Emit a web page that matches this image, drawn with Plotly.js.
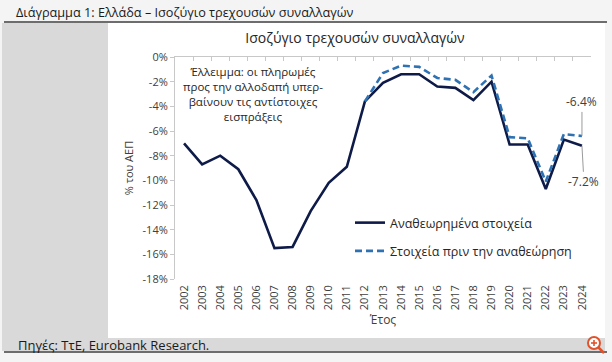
<!DOCTYPE html>
<html>
<head>
<meta charset="utf-8">
<script src="https://cdn.plot.ly/plotly-3.0.1.min.js"></script>
<style>
  html, body { margin: 0; padding: 0; background: #f4f4f4; }
  #chart { width: 612px; height: 362px; }
</style>
</head>
<body>
<div id="chart"></div>
<script>
// ---- Data ----
const years = ["2002","2003","2004","2005","2006","2007","2008","2009","2010","2011","2012",
               "2013","2014","2015","2016","2017","2018","2019","2020","2021","2022","2023","2024"];
const revisedData = [-7.0, -8.7, -8.0, -9.1, -11.6, -15.5, -15.4, -12.5, -10.2, -8.9, -3.6,
                     -2.1, -1.4, -1.4, -2.4, -2.5, -3.5, -2.0, -7.1, -7.1, -10.7, -6.7, -7.2];
const previousData = [null, null, null, null, null, null, null, null, null, null, -3.6,
                      -1.3, -0.7, -0.8, -1.7, -1.85, -2.85, -1.5, -6.5, -6.6, -10.1, -6.25, -6.4];
const yTickValues = [0, -2, -4, -6, -8, -10, -12, -14, -16, -18];
const yTickLabels = ["0%", "-2%", "-4%", "-6%", "-8%", "-10%", "-12%", "-14%", "-16%", "-18%"];
const seriesNames = ["Αναθεωρημένα στοιχεία", "Στοιχεία πριν την αναθεώρηση"];
const endLabels = ["-6.4%", "-7.2%"];

// ---- Layout helpers (pixel -> paper coordinates) ----
const L = 175, R = 591, T = 57, B = 279;
const px = x => (x - L) / (R - L);
const py = y => (B - y) / (B - T);
const FONT = "Open Sans, Noto Sans, DejaVu Sans, sans-serif";
const lastIdx = years.length - 1;

const traces = [
  {
    type: "scatter", mode: "lines", x: years, y: revisedData,
    name: seriesNames[0], legendgroup: "a",
    line: { color: "#0e1b48", width: 2.6 },
    hoverinfo: "skip"
  },
  {
    type: "scatter", mode: "lines", x: years, y: previousData,
    name: seriesNames[1], legendgroup: "b",
    line: { color: "#2f72b3", width: 2.6, dash: "7px,4px" },
    connectgaps: false, hoverinfo: "skip"
  },
  {
    type: "scatter", mode: "lines", x: years, y: years.map(() => null),
    xaxis: "x2", showlegend: false, hoverinfo: "skip"
  }
];

const layout = {
  width: 612, height: 362,
  margin: { l: L, r: 612 - R, t: T, b: 362 - B, pad: 0 },
  paper_bgcolor: "#f4f4f4",
  plot_bgcolor: "rgba(0,0,0,0)",
  font: { family: FONT, color: "#404040" },
  showlegend: true,
  title: {
    text: "Ισοζύγιο τρεχουσών συναλλαγών",
    x: 355 / 612, xanchor: "center", y: 1 - 38 / 362, yanchor: "middle",
    font: { family: FONT, size: 14, color: "#262626" }
  },
  xaxis: {
    type: "category", range: [-0.5, 22.5], anchor: "y", side: "bottom",
    showline: false, ticks: "", showgrid: false, zeroline: false,
    tickangle: -90, tickfont: { size: 11, color: "#404040" }, ticklabelstandoff: 3,
    title: { text: "Έτος", font: { size: 12, color: "#404040" }, standoff: 6 },
    automargin: false, fixedrange: true
  },
  xaxis2: {
    type: "category", range: [-0.5, 22.5], overlaying: "x", anchor: "y", side: "top",
    showline: true, linecolor: "#c8c8c8", linewidth: 1,
    ticks: "inside", tickson: "boundaries", ticklen: 4, tickcolor: "#c8c8c8",
    showticklabels: false, showgrid: false, zeroline: false, fixedrange: true
  },
  yaxis: {
    range: [-18, 0], tickvals: yTickValues, ticktext: yTickLabels,
    showline: true, linecolor: "#c8c8c8", linewidth: 1,
    ticks: "outside", ticklen: 4, tickcolor: "#c8c8c8",
    showgrid: false, zeroline: false,
    tickfont: { size: 11, color: "#404040" },
    title: { text: "% του ΑΕΠ", font: { size: 11, color: "#404040" }, standoff: 6 },
    automargin: false, fixedrange: true
  },
  legend: {
    x: px(350), y: py(208), xanchor: "left", yanchor: "top",
    bgcolor: "rgba(0,0,0,0)", font: { size: 12.5, color: "#262626" },
    traceorder: "grouped", tracegroupgap: 9
  },
  shapes: [
    { type: "rect", xref: "paper", yref: "paper", layer: "below",
      x0: px(2), x1: px(108), y0: py(338), y1: py(23), fillcolor: "#d9d9d9", line: { width: 0 } },
    { type: "rect", xref: "paper", yref: "paper", layer: "below",
      x0: px(108), x1: px(605), y0: py(338), y1: py(23), fillcolor: "#ffffff", line: { width: 0 } },
    { type: "rect", xref: "paper", yref: "paper", layer: "below",
      x0: px(2), x1: px(605), y0: py(351), y1: py(338), fillcolor: "#d9d9d9", line: { width: 0 } },
    { type: "line", xref: "paper", yref: "paper", layer: "below",
      x0: px(4), x1: px(607), y0: py(22), y1: py(22), line: { color: "#404040", width: 1.5 } },
    { type: "line", xref: "paper", yref: "paper", layer: "below",
      x0: px(4), x1: px(607), y0: py(352), y1: py(352), line: { color: "#404040", width: 1.5 } },
    // magnifier icon
    { type: "circle", xref: "paper", yref: "paper", layer: "above",
      x0: px(588), x1: px(600), y0: py(349), y1: py(337), fillcolor: "#ffffff",
      line: { color: "#e0522b", width: 2 } },
    { type: "line", xref: "paper", yref: "paper", layer: "above",
      x0: px(598.5), x1: px(604), y0: py(347.5), y1: py(353), line: { color: "#e0522b", width: 2.5 } },
    { type: "line", xref: "paper", yref: "paper", layer: "above",
      x0: px(591), x1: px(597), y0: py(343), y1: py(343), line: { color: "#e0522b", width: 1.6 } },
    { type: "line", xref: "paper", yref: "paper", layer: "above",
      x0: px(594), x1: px(594), y0: py(340), y1: py(346), line: { color: "#e0522b", width: 1.6 } }
  ],
  annotations: [
    { xref: "paper", yref: "paper", x: px(14), y: py(12), xanchor: "left", yanchor: "middle",
      showarrow: false, text: "Διάγραμμα 1: Ελλάδα – Ισοζύγιο τρεχουσών συναλλαγών",
      font: { family: FONT, size: 12.7, color: "#1a1a1a" } },
    { xref: "paper", yref: "paper", x: px(16), y: py(345), xanchor: "left", yanchor: "middle",
      showarrow: false, text: "Πηγές: ΤτΕ, Eurobank Research.",
      font: { family: FONT, size: 13, color: "#1a1a1a" } },
    { xref: "paper", yref: "paper", x: px(253), y: py(94), xanchor: "center", yanchor: "middle",
      showarrow: false, align: "center",
      text: "Έλλειμμα: οι πληρωμές<br>προς την αλλοδαπή υπερ-<br>βαίνουν τις αντίστοιχες<br>εισπράξεις",
      font: { family: FONT, size: 11.5, color: "#262626" } },
    { xref: "x", yref: "y", x: lastIdx, y: previousData[lastIdx],
      text: endLabels[0], showarrow: true, arrowhead: 0, arrowwidth: 1, arrowcolor: "#9a9a9a",
      axref: "pixel", ayref: "pixel", ax: 0, ay: -34, font: { size: 12, color: "#404040" } },
    { xref: "x", yref: "y", x: lastIdx, y: revisedData[lastIdx],
      text: endLabels[1], showarrow: true, arrowhead: 0, arrowwidth: 1, arrowcolor: "#9a9a9a",
      axref: "pixel", ayref: "pixel", ax: 2, ay: 36, font: { size: 12, color: "#404040" } }
  ]
};

Plotly.newPlot("chart", traces, layout, { displayModeBar: false, staticPlot: true });
</script>
</body>
</html>
